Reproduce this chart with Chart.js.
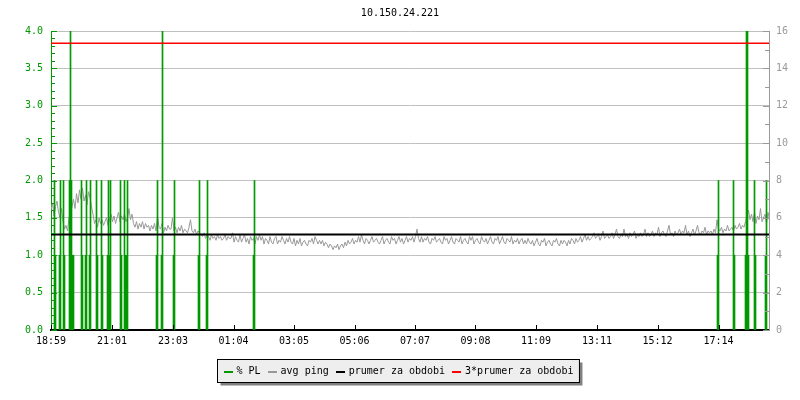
<!DOCTYPE html>
<html>
<head>
<meta charset="utf-8">
<script src="https://cdn.jsdelivr.net/npm/chart.js@4.4.0/dist/chart.umd.min.js"></script>
<style>
    html, body { margin: 0; padding: 0; background: #ffffff; }
</style>
</head>
<body>
<canvas id="pingChart" width="800" height="400"></canvas>
<script>
const chartTitle = "10.150.24.221";

// x axis in minutes from 18:59, 24 hours
const timeTicks = [0, 122, 244, 365, 486, 607, 728, 849, 970, 1092, 1213, 1335];
const timeLabels = ["18:59", "21:01", "23:03", "01:04", "03:05", "05:06", "07:07", "09:08", "11:09", "13:11", "15:12", "17:14"];
const timeMax = 1436;

// avg ping in ms (right axis), one sample every 3 minutes
const pingStep = 3;
const pingMs = [
    6.4, 6.8, 6.1, 6.6, 6.9, 6.3, 6.0, 6.5, 5.8, 5.4, 5.6, 5.3, 6.0, 6.3, 6.6, 7.0, 6.5, 7.3, 6.8, 7.5,
    7.0, 7.6, 6.9, 7.2, 6.7, 7.4, 7.1, 6.6, 6.2, 5.7, 5.9, 5.5, 6.0, 5.7, 5.9, 5.6, 5.8, 6.0, 5.6, 5.9,
    6.2, 5.8, 6.1, 5.7, 6.0, 6.3, 5.8, 6.1, 5.9, 6.2, 5.8, 6.0, 6.5, 5.9, 6.2, 5.7, 5.5, 5.8, 5.4, 5.7,
    5.5, 5.8, 5.4, 5.7, 5.5, 5.6, 5.3, 5.6, 5.4, 5.7, 5.3, 6.1, 5.5, 5.4, 5.7, 5.2, 5.5, 5.3, 5.6, 5.4,
    5.4, 6.0, 5.3, 5.5, 5.2, 5.5, 5.3, 5.6, 5.2, 5.4, 5.3, 5.2, 5.5, 5.9, 5.3, 5.2, 5.4, 5.1, 5.3, 5.2,
    5.1, 5.0, 5.2, 4.9, 5.1, 5.0, 4.8, 5.1, 4.9, 5.0, 4.8, 5.1, 4.9, 5.0, 4.8, 4.9, 5.1, 4.8, 5.0, 4.9,
    4.9, 5.2, 4.7, 5.0, 4.8, 4.7, 5.1, 4.7, 4.9, 5.1, 4.7, 4.9, 4.6, 5.0, 4.8, 4.9, 4.6, 5.0, 4.8, 5.1,
    4.8, 5.0, 4.6, 4.9, 4.8, 4.6, 5.0, 4.7, 4.6, 4.9, 5.0, 4.6, 4.8, 4.7, 5.0, 4.8, 4.6, 4.9, 4.7, 5.0,
    4.7, 4.6, 4.9, 4.5, 4.8, 4.6, 4.9, 4.5, 4.7, 4.8, 4.6, 4.5, 4.8, 4.7, 4.9, 4.6, 5.0, 4.8, 4.6, 4.8,
    4.6, 4.8, 4.5, 4.7, 4.6, 4.4, 4.6, 4.5, 4.3, 4.5, 4.4, 4.6, 4.3, 4.5, 4.6, 4.4, 4.7, 4.5, 4.8, 4.6,
    4.7, 4.9, 4.6, 4.8, 4.7, 5.0, 4.7, 5.1, 4.8, 4.6, 4.9, 4.8, 4.6, 4.8, 5.0, 4.7, 4.8, 4.9, 4.7, 4.6,
    4.8, 5.0, 4.6, 4.8, 4.9, 4.7, 4.6, 5.0, 4.8, 4.9, 4.6, 4.8, 5.0, 4.7, 4.9, 4.6, 4.8, 5.0, 4.7, 4.9,
    4.8, 5.0, 4.7, 5.0, 5.4, 4.9, 4.7, 5.0, 4.7, 4.9, 4.8, 5.0, 4.7, 4.6, 4.9, 4.8, 5.0, 4.7, 4.8, 4.9,
    4.7, 4.6, 5.0, 4.8, 4.9, 4.6, 4.8, 5.0, 4.7, 4.6, 4.9, 4.8, 4.7, 5.0, 4.6, 4.8, 4.9, 4.7, 4.6, 5.0,
    4.8, 5.0, 4.6, 4.8, 4.9, 4.7, 4.6, 5.0, 4.8, 4.7, 4.9, 4.6, 4.8, 5.0, 4.7, 4.6, 4.9, 4.8, 5.0, 4.6,
    4.8, 5.0, 4.7, 4.6, 4.9, 4.8, 4.7, 5.0, 4.6, 4.8, 4.7, 4.9, 4.6, 4.8, 4.9, 4.6, 4.8, 4.6, 4.9, 4.7,
    4.6, 4.8, 4.5, 4.7, 4.9, 4.6, 4.5, 4.8, 4.7, 4.9, 4.5, 4.7, 4.8, 4.6, 4.5, 4.8, 4.7, 4.9, 4.6, 4.5,
    4.8, 4.6, 4.8, 4.7, 4.5, 4.8, 4.6, 4.9, 4.8, 4.6, 4.9, 4.7, 4.8, 5.0, 4.7, 4.9, 5.1, 4.8, 5.0, 4.8,
    4.9, 5.0, 5.2, 4.9, 5.0, 5.1, 4.8, 5.0, 5.3, 4.9, 5.0, 5.1, 4.9, 5.0, 5.2, 4.9, 5.1, 5.4, 5.0, 4.9,
    5.1, 5.0, 5.4, 5.0, 5.1, 4.9, 5.2, 5.0, 5.1, 5.3, 4.9, 5.1, 5.0, 5.2, 5.0, 5.1, 5.4, 5.0, 5.2, 5.0,
    5.1, 5.3, 5.0, 5.2, 5.1, 5.5, 5.0, 5.2, 5.3, 5.1, 5.0, 5.3, 5.6, 5.1, 5.2, 5.0, 5.3, 5.1, 5.2, 5.4,
    5.1, 5.3, 5.2, 5.6, 5.1, 5.3, 5.0, 5.2, 5.4, 5.1, 5.3, 5.6, 5.2, 5.1, 5.3, 5.2, 5.5, 5.1, 5.3, 5.2,
    5.3, 5.1, 5.4, 5.2, 5.9, 5.4, 5.3, 5.5, 5.2, 5.4, 5.3, 5.6, 5.3, 5.4, 5.5, 5.3, 5.6, 5.4, 5.5, 5.7,
    5.4, 5.6, 5.5, 5.8, 6.1, 6.4, 5.9, 6.2, 5.8, 6.3, 5.7, 6.1, 5.9, 6.5, 5.8, 6.0, 6.2, 5.7, 6.3, 5.9
];

// packet loss spikes (left axis), minute of the sample and % PL
const plMinutes = [7, 9, 17, 19, 25, 27, 37, 39, 41, 43, 45, 61, 63, 69, 71, 77, 79, 91, 93, 101, 103,
    113, 115, 117, 119, 139, 141, 147, 149, 151, 153, 211, 213, 221, 223, 245, 247, 295, 297, 311, 313,
    405, 407, 1333, 1335, 1365, 1367, 1389, 1391, 1393, 1395, 1407, 1409, 1429, 1431];
const plValues = [2, 1, 1, 2, 2, 1, 2, 4, 2, 1, 1, 2, 1, 1, 2, 1, 2, 2, 1, 2, 1,
    1, 2, 1, 2, 2, 1, 2, 1, 1, 2, 1, 2, 1, 4, 1, 2, 1, 2, 1, 2,
    1, 2, 1, 2, 2, 1, 1, 4, 4, 1, 2, 1, 1, 2];

// period average and 3x average, ms
const periodAvg = [5.11];
const periodAvg3 = [15.34];

const monoFont = "'DejaVu Sans Mono', monospace";
Chart.defaults.font.family = monoFont;
Chart.defaults.font.size = 10;

const plData = plMinutes.map((m, i) => ({ x: m, y: plValues[i] }));
const pingData = pingMs.map((v, i) => ({ x: i * pingStep, y: v }));

// small inward tick marks like the original graph
const axisMarks = {
    id: "axisMarks",
    afterDraw(chart) {
        const ctx = chart.ctx;
        const area = chart.chartArea;
        const y = chart.scales.y;
        const y1 = chart.scales.y1;
        const x = chart.scales.x;
        ctx.save();
        ctx.lineWidth = 1;
        ctx.strokeStyle = "#009900";
        ctx.beginPath();
        for (let i = 0; i <= 40; i++) {
            const py = Math.round(y.getPixelForValue(i / 10)) + 0.5;
            const len = i % 5 === 0 ? 6 : 4;
            ctx.moveTo(area.left, py);
            ctx.lineTo(area.left + len, py);
        }
        ctx.stroke();
        ctx.strokeStyle = "#999999";
        ctx.beginPath();
        for (let i = 0; i <= 16; i++) {
            const py = Math.round(y1.getPixelForValue(i)) + 0.5;
            const len = i % 2 === 0 ? 6 : 4;
            ctx.moveTo(area.right, py);
            ctx.lineTo(area.right - len, py);
        }
        ctx.stroke();
        ctx.strokeStyle = "#000000";
        ctx.beginPath();
        timeTicks.forEach((t) => {
            const px = Math.round(x.getPixelForValue(t)) + 0.5;
            ctx.moveTo(px, area.bottom);
            ctx.lineTo(px, area.bottom - 5);
        });
        ctx.stroke();
        ctx.restore();
    },
};

// boxed legend with a drop shadow under the plot
const boxLegend = {
    id: "boxLegend",
    afterDraw(chart) {
        const ctx = chart.ctx;
        ctx.save();
        ctx.font = "10px " + monoFont;
        const items = chart.data.datasets.map((ds) => ({
            label: ds.label,
            color: ds.type === "bar" ? ds.backgroundColor : ds.borderColor,
        }));
        const sample = 9, gap = 4, spacing = 7, pad = 6;
        let total = pad * 2;
        items.forEach((it, i) => {
            it.w = ctx.measureText(it.label).width;
            total += sample + gap + it.w + (i < items.length - 1 ? spacing : 0);
        });
        const left = Math.round(398 - total / 2) + 0.5;
        const top = 359.5;
        const h = 23;
        ctx.fillStyle = "#808080";
        ctx.fillRect(left + 3, top + 3, total, h);
        ctx.fillStyle = "#eeeeee";
        ctx.fillRect(left, top, total, h);
        ctx.strokeStyle = "#000000";
        ctx.lineWidth = 1;
        ctx.strokeRect(left, top, total, h);
        let cx = left + pad;
        const cy = top + h / 2;
        ctx.textBaseline = "middle";
        items.forEach((it) => {
            ctx.fillStyle = it.color;
            ctx.fillRect(Math.round(cx), Math.round(cy), sample, 2);
            cx += sample + gap;
            ctx.fillStyle = "#000000";
            ctx.fillText(it.label, cx, cy);
            cx += it.w + spacing;
        });
        ctx.restore();
    },
};

const config = {
    data: {
        datasets: [
            {
                type: "bar",
                label: "% PL",
                data: plData,
                yAxisID: "y",
                backgroundColor: "#009900",
                borderWidth: 0,
                barThickness: 1,
                order: 3,
            },
            {
                type: "line",
                label: "avg ping",
                data: pingData,
                yAxisID: "y1",
                borderColor: "#999999",
                borderWidth: 1,
                pointRadius: 0,
                tension: 0,
                order: 4,
            },
            {
                type: "line",
                label: "prumer za obdobi",
                data: [{ x: 0, y: periodAvg[0] }, { x: timeMax, y: periodAvg[0] }],
                yAxisID: "y1",
                borderColor: "#000000",
                borderWidth: 2,
                pointRadius: 0,
                order: 2,
            },
            {
                type: "line",
                label: "3*prumer za obdobi",
                data: [{ x: 0, y: periodAvg3[0] }, { x: timeMax, y: periodAvg3[0] }],
                yAxisID: "y1",
                borderColor: "#ff0000",
                borderWidth: 1.5,
                pointRadius: 0,
                order: 1,
            },
        ],
    },
    options: {
        responsive: false,
        animation: false,
        events: [],
        layout: { padding: 0 },
        scales: {
            x: {
                type: "linear",
                min: 0,
                max: timeMax,
                offset: false,
                grid: { display: false, drawTicks: false },
                border: { color: "#000000", width: 2 },
                afterBuildTicks: (scale) => {
                    scale.ticks = timeTicks.map((t) => ({ value: t }));
                },
                afterFit: (scale) => {
                    scale.height = 70;
                },
                ticks: {
                    color: "#000000",
                    padding: 5,
                    maxRotation: 0,
                    autoSkip: false,
                    callback: (value) => timeLabels[timeTicks.indexOf(value)],
                },
            },
            y: {
                position: "left",
                min: 0,
                max: 4,
                grid: { color: "#c0c0c0", drawTicks: false },
                border: { color: "#009900", width: 1 },
                afterFit: (scale) => {
                    scale.width = 51;
                },
                ticks: {
                    stepSize: 0.5,
                    color: "#009900",
                    padding: 8,
                    callback: (value) => value.toFixed(1),
                },
            },
            y1: {
                position: "right",
                min: 0,
                max: 16,
                grid: { display: false, drawTicks: false },
                border: { color: "#999999", width: 1 },
                afterFit: (scale) => {
                    scale.width = 31;
                },
                ticks: {
                    stepSize: 2,
                    color: "#999999",
                    padding: 7,
                },
            },
        },
        plugins: {
            legend: { display: false },
            tooltip: { enabled: false },
            title: {
                display: true,
                text: chartTitle,
                color: "#000000",
                font: { family: monoFont, size: 10, weight: "normal" },
                padding: { top: 7, bottom: 12 },
            },
        },
    },
    plugins: [axisMarks, boxLegend],
};

const pingChart = new Chart(document.getElementById("pingChart"), config);
</script>
</body>
</html>
